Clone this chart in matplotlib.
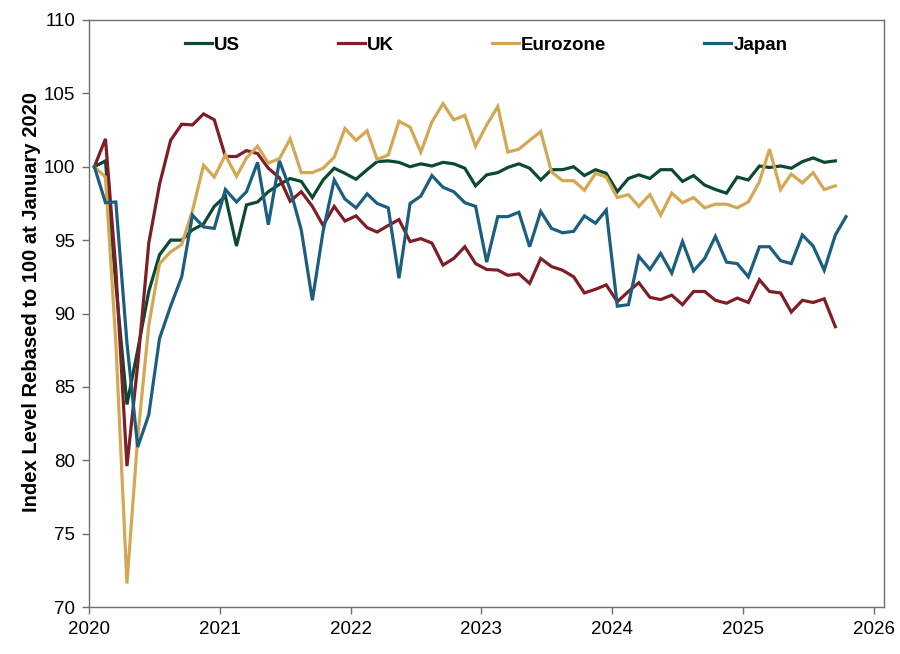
import matplotlib
matplotlib.use("Agg")
import matplotlib.pyplot as plt
import matplotlib.dates as mdates
import pandas as pd

plt.rcParams['font.family'] = ['Liberation Sans', 'DejaVu Sans']

us = [100, 100.4, 92.0, 83.8, 87.5, 91.5, 94.0, 95.0, 95.0, 95.7, 96.1, 97.3,
      98.0, 94.6, 97.4, 97.6, 98.3, 98.8, 99.2, 99.0, 97.9, 99.1, 99.9, 99.55,
      99.15, 99.8, 100.35, 100.4, 100.3, 100.0, 100.2, 100.05, 100.3, 100.2, 99.9, 98.7,
      99.45, 99.6, 99.95, 100.2, 99.9, 99.1, 99.8, 99.8, 100.0, 99.4, 99.8, 99.55,
      98.3, 99.2, 99.45, 99.2, 99.8, 99.8, 99.0, 99.4, 98.75, 98.45, 98.2, 99.3,
      99.1, 100.05, 99.95, 100.05, 99.9, 100.35, 100.6, 100.3, 100.4]
uk = [100, 101.9, 93.0, 79.6, 86.5, 94.8, 98.8, 101.8, 102.9, 102.85, 103.6, 103.2,
      100.7, 100.7, 101.1, 100.9, 99.9, 99.25, 97.65, 98.3, 97.3, 96.0, 97.3, 96.3,
      96.65, 95.85, 95.55, 96.0, 96.4, 94.9, 95.1, 94.8, 93.3, 93.75, 94.55, 93.4,
      93.0, 92.96, 92.6, 92.7, 92.05, 93.75, 93.2, 92.95, 92.5, 91.4, 91.65, 91.95,
      90.8, 91.5, 92.1, 91.1, 90.95, 91.25, 90.6, 91.5, 91.5, 90.9, 90.7, 91.05,
      90.75, 92.3, 91.5, 91.4, 90.1, 90.9, 90.75, 91.0, 89.1]
eurozone = [100, 99.3, 88.0, 71.6, 81.5, 89.2, 93.4, 94.2, 94.7, 97.0, 100.1, 99.3,
            100.8, 99.35, 100.6, 101.4, 100.25, 100.55, 101.9, 99.6, 99.6, 99.9, 100.65, 102.6,
            101.8, 102.45, 100.5, 100.8, 103.1, 102.7, 101.0, 103.05, 104.3, 103.2, 103.5, 101.4,
            102.85, 104.1, 101.0, 101.2, 101.8, 102.4, 99.65, 99.05, 99.05, 98.4, 99.55, 99.3,
            97.9, 98.1, 97.3, 98.1, 96.7, 98.2, 97.55, 97.9, 97.2, 97.45, 97.45, 97.2,
            97.6, 98.98, 101.2, 98.45, 99.5, 98.9, 99.6, 98.45, 98.7]
japan = [100, 97.55, 97.6, 88.0, 80.9, 83.1, 88.3, 90.5, 92.5, 96.7, 95.9, 95.8,
         98.45, 97.6, 98.3, 100.3, 96.05, 100.4, 98.45, 95.7, 90.9, 95.6, 99.1, 97.8,
         97.2, 98.15, 97.5, 97.2, 92.4, 97.5, 98.0, 99.4, 98.6, 98.3, 97.55, 97.3,
         93.5, 96.6, 96.6, 96.9, 94.55, 96.95, 95.8, 95.5, 95.6, 96.65, 96.15, 97.05,
         90.5, 90.6, 93.9, 93.0, 94.1, 92.75, 94.9, 92.9, 93.75, 95.25, 93.5, 93.4,
         92.5, 94.55, 94.55, 93.6, 93.4, 95.35, 94.6, 92.95, 95.35, 96.6]

series_names = ['US', 'UK', 'Eurozone', 'Japan']
series_vals = [us, uk, eurozone, japan]
colors = ['#0b4a30', '#7e1e26', '#d4a754', '#1c5e80']

fig = plt.figure(figsize=(9, 6.54), dpi=100)
ax = fig.add_axes([89/900, 47/654, (884-89)/900, (607-20)/654])

for name, vals, c in zip(series_names, series_vals, colors):
    dates = pd.date_range('2020-01-01', periods=len(vals), freq='MS') + pd.Timedelta(days=15)
    ax.plot(dates, vals, color=c, lw=2.3, label=name, solid_joinstyle='miter')

ax.set_ylim(70, 110)
ax.set_yticks(range(70, 111, 5))
ax.set_xlim(pd.Timestamp('2020-01-01'), pd.Timestamp('2026-01-30'))
ax.xaxis.set_major_locator(mdates.YearLocator())
ax.xaxis.set_major_formatter(mdates.DateFormatter('%Y'))

for s in ax.spines.values():
    s.set_color('#6f6f6f')
    s.set_linewidth(1.0)
ax.tick_params(axis='both', direction='out', length=5, width=1, color='#6f6f6f',
               labelsize=13.5, labelcolor='black')
ax.tick_params(axis='y', pad=5)
ax.tick_params(axis='x', pad=5)

ax.set_ylabel('Index Level Rebased to 100 at January 2020', fontsize=14.5,
              fontweight='bold')
ax.yaxis.set_label_coords(-0.06, 0.52)

leg = fig.legend(loc='center', bbox_to_anchor=(0.54, 1 - 45/654), ncol=4,
                 frameon=False, borderpad=0, borderaxespad=0,
                 handlelength=1.45, handletextpad=0.12, columnspacing=5.2,
                 prop={'weight': 'bold', 'size': 13.5})
for t in leg.get_texts():
    t.set_color('black')

fig.savefig('out.png', dpi=100)
